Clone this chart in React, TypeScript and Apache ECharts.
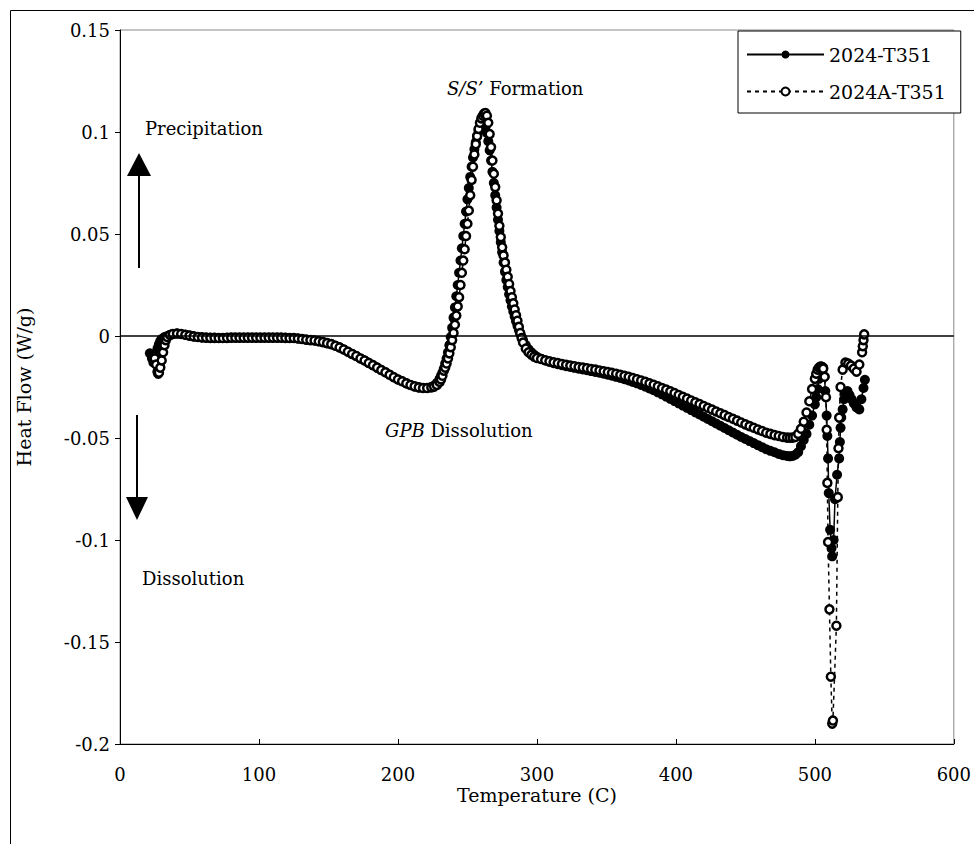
import React, { useEffect, useRef } from "react";
import * as echarts from "echarts";

const FONT = "DejaVu Serif";

const xTicks = { min: 0, max: 600, interval: 100 };
const yTicks = { min: -0.2, max: 0.15, interval: 0.05 };

const seriesNames = ["2024-T351", "2024A-T351"];

// 2024-T351 : [temperature (C), heat flow (W/g)]
const data2024: [number, number][] = [
  [21.5,-0.0085],[23,-0.011],[24,-0.013],[25,-0.012],[26,-0.009],[27,-0.006],[28,-0.004],[29,-0.0025],[30,-0.0015],[32,-0.0005],[34,0],[36,0.0005],
  [38,0.001],[41,0.0012],[44,0.001],[47,0.0006],[50,0.0002],[53,-0.0002],[56,-0.0005],[59,-0.0007],[62,-0.0008],[65,-0.0009],[68,-0.0009],[71,-0.001],[74,-0.001],[77,-0.0009],[80,-0.0008],[83,-0.0008],[86,-0.0008],[89,-0.0008],[92,-0.0008],[95,-0.0008],[98,-0.0008],[101,-0.0008],[104,-0.0008],[107,-0.0008],[110,-0.0008],[113,-0.0008],[116,-0.0008],[119,-0.0009],[122,-0.001],[125,-0.001],
  [128,-0.0012],[131,-0.0015],[134,-0.0018],[137,-0.002],[140,-0.0022],[143,-0.0026],[146,-0.003],[149,-0.0035],[152,-0.004],[155,-0.0048],[158,-0.0056],[161,-0.0066],[164,-0.0077],[167,-0.0088],[170,-0.0098],[173,-0.011],[176,-0.012],[179,-0.0132],[182,-0.0143],[185,-0.0155],[188,-0.0167],[191,-0.0178],[194,-0.019],[197,-0.0202],[200,-0.0213],[203,-0.0222],[206,-0.0232],[209,-0.024],[212,-0.0247],[215,-0.0252],[218,-0.0255],[221,-0.0255],[224,-0.025],[226,-0.0243],[228,-0.023],[230,-0.021],[231,-0.0195],[232,-0.018],[233,-0.016],[234,-0.0135],[235,-0.011],[236,-0.008],[237,-0.0045],[238,-0.0005],[239,0.004],[240,0.009],[241,0.014],[242,0.0195],[243,0.025],[244,0.031],[245,0.037],[246,0.043],[247,0.049],[248,0.055],[249,0.061],[250,0.067],[251,0.0725],[252,0.078],[253,0.083],[254,0.0875],[255,0.0915],[256,0.095],[257,0.098],[258,0.1005],[259,0.1025],[260,0.104],[261,0.105],[262,0.1045],[263,0.1025],[264,0.0995],[265,0.0955],[266,0.091],[267,0.086],[268,0.0805],[269,0.075],[270,0.069],[271,0.063],[272,0.057],[273,0.0515],[274,0.046],[275,0.041],[276,0.036],[277,0.0315],[278,0.0275],[279,0.024],[280,0.0205],[281,0.0175],[282,0.0145],[283,0.012],[284,0.0095],[285,0.0072],[286,0.005],[287,0.003],[288,0.0012],[289,-0.0005],[290,-0.002],[292,-0.0045],[294,-0.0065],[296,-0.008],[298,-0.0092],[300,-0.0102],
  [303,-0.0112],[306,-0.012],[309,-0.0127],[312,-0.0133],[315,-0.0138],[318,-0.0143],[321,-0.0148],[324,-0.0152],[327,-0.0156],[330,-0.016],[333,-0.0164],[336,-0.0168],[339,-0.0172],[342,-0.0176],[345,-0.018],[348,-0.0185],[351,-0.019],[354,-0.0195],[357,-0.02],[360,-0.0206],[363,-0.0212],[366,-0.0218],[369,-0.0225],[372,-0.0232],[375,-0.024],[378,-0.0248],[381,-0.0257],[384,-0.0266],[387,-0.0276],[390,-0.0286],[393,-0.0297],[396,-0.0308],[399,-0.0319],[402,-0.033],[405,-0.0341],[408,-0.0352],[411,-0.0363],[414,-0.0374],[417,-0.0385],[420,-0.0396],[423,-0.0407],[426,-0.0418],[429,-0.0429],[432,-0.044],[435,-0.0451],[438,-0.0462],[441,-0.0473],[444,-0.0484],[447,-0.0495],[450,-0.0505],[453,-0.0515],[456,-0.0525],[459,-0.0535],[462,-0.0545],[465,-0.0555],[468,-0.0563],[471,-0.057],[474,-0.0578],[477,-0.0584],[480,-0.0588],
  [482,-0.059],[484,-0.0588],[486,-0.0582],[488,-0.057],[490,-0.054],[492,-0.051],[494,-0.048],[496,-0.0435],[498,-0.039],[500,-0.0335],[501,-0.03],[502,-0.026],[503,-0.021],[504,-0.017],[505,-0.015],[506,-0.0155],[507,-0.02],[507.5,-0.027],[508.5,-0.039],[509,-0.049],[509.5,-0.06],[510,-0.077],[511,-0.095],[512,-0.104],[512.5,-0.108],[513.5,-0.1],[514.5,-0.08],[516,-0.068],[517.5,-0.06],[518,-0.052],[518.5,-0.045],[519,-0.04],[520,-0.036],[521,-0.031],[522,-0.028],[523.5,-0.027],[525,-0.029],[526.5,-0.031],[528,-0.033],[530,-0.035],[532,-0.036],[533.5,-0.031],[535,-0.0255],[536,-0.0215]
];

// 2024A-T351 : [temperature (C), heat flow (W/g)]
const data2024A: [number, number][] = [
  [25,-0.011],[26,-0.014],[27,-0.0175],[27.5,-0.0185],[28,-0.018],[29,-0.0155],[30,-0.012],[31,-0.008],[32,-0.0045],[33,-0.002],[34,-0.0005],[36,0.0005],
  [38,0.001],[41,0.0012],[44,0.001],[47,0.0006],[50,0.0002],[53,-0.0002],[56,-0.0005],[59,-0.0007],[62,-0.0008],[65,-0.0009],[68,-0.0009],[71,-0.001],[74,-0.001],[77,-0.0009],[80,-0.0008],[83,-0.0008],[86,-0.0008],[89,-0.0008],[92,-0.0008],[95,-0.0008],[98,-0.0008],[101,-0.0008],[104,-0.0008],[107,-0.0008],[110,-0.0008],[113,-0.0008],[116,-0.0008],[119,-0.0009],[122,-0.001],[125,-0.001],
  [128,-0.0012],[131,-0.0015],[134,-0.0018],[137,-0.002],[140,-0.0022],[143,-0.0026],[146,-0.003],[149,-0.0035],[152,-0.004],[155,-0.0048],[158,-0.0056],[161,-0.0066],[164,-0.0077],[167,-0.0088],[170,-0.0098],[173,-0.011],[176,-0.012],[179,-0.0132],[182,-0.0143],[185,-0.0155],[188,-0.0167],[191,-0.0178],[194,-0.019],[197,-0.0202],[200,-0.0213],[203,-0.0222],[206,-0.0232],[209,-0.024],[212,-0.0247],[215,-0.0252],[218,-0.0255],[221,-0.0255],[224,-0.0252],[226,-0.0248],[228,-0.024],[230,-0.0225],[231,-0.0213],[232,-0.0195],[233,-0.017],[234,-0.0155],[235,-0.0135],[236,-0.011],[237,-0.0085],[238,-0.0055],[239,-0.002],[240,0.0015],[241,0.0055],[242,0.01],[243,0.0145],[244,0.019],[245,0.025],[246,0.031],[247,0.037],[248,0.0425],[249,0.049],[250,0.055],[251,0.0615],[252,0.069],[253,0.0765],[254,0.083],[255,0.089],[256,0.094],[257,0.098],[258,0.1015],[259,0.1045],[260,0.1067],[261,0.108],[262,0.109],[263,0.1093],[264,0.108],[265,0.1045],[266,0.099],[267,0.0926],[268,0.086],[269,0.0795],[270,0.073],[271,0.0665],[272,0.06],[273,0.054],[274,0.0485],[275,0.0435],[276,0.0395],[277,0.036],[278,0.0325],[279,0.029],[280,0.0255],[281,0.022],[282,0.019],[283,0.016],[284,0.013],[285,0.0102],[286,0.0075],[287,0.0045],[288,0.0015],[289,-0.001],[290,-0.0032],[292,-0.0062],[294,-0.008],[296,-0.0092],[298,-0.0101],[300,-0.0108],
  [303,-0.0113],[306,-0.0119],[309,-0.0124],[312,-0.0129],[315,-0.0133],[318,-0.0137],[321,-0.0141],[324,-0.0145],[327,-0.0148],[330,-0.0152],[333,-0.0155],[336,-0.0158],[339,-0.0162],[342,-0.0165],[345,-0.0169],[348,-0.0173],[351,-0.0177],[354,-0.0181],[357,-0.0185],[360,-0.019],[363,-0.0195],[366,-0.02],[369,-0.0206],[372,-0.0212],[375,-0.0218],[378,-0.0225],[381,-0.0232],[384,-0.0239],[387,-0.0247],[390,-0.0255],[393,-0.0263],[396,-0.0271],[399,-0.028],[402,-0.0289],[405,-0.0298],[408,-0.0307],[411,-0.0316],[414,-0.0325],[417,-0.0334],[420,-0.0343],[423,-0.0352],[426,-0.0361],[429,-0.037],[432,-0.0379],[435,-0.0388],[438,-0.0397],[441,-0.0406],[444,-0.0415],[447,-0.0424],[450,-0.0433],[453,-0.0442],[456,-0.045],[459,-0.0458],[462,-0.0466],[465,-0.0474],[468,-0.048],[471,-0.0486],[474,-0.049],[477,-0.0495],[480,-0.0498],
  [482,-0.0499],[484,-0.0498],[486,-0.0495],[488,-0.048],[490,-0.0455],[492,-0.042],[494,-0.0375],[496,-0.032],[498,-0.026],[500,-0.021],[501,-0.0185],[502,-0.0165],[503,-0.0155],[504,-0.015],[505,-0.0152],[506,-0.016],[507,-0.02],[508,-0.03],[508.5,-0.046],[509,-0.072],[509.5,-0.101],[510.5,-0.134],[511.5,-0.167],[512.5,-0.19],[513,-0.1885],[515.5,-0.142],[516.5,-0.079],[517,-0.055],[517.5,-0.04],[518.5,-0.025],[520,-0.0165],[522,-0.013],[524,-0.0135],[526,-0.0145],[528,-0.016],[530,-0.0175],[532,-0.014],[534,-0.008],[534.5,-0.005],[535,-0.002],[535.5,0.0008]
];

const labelText = {
  up: "Precipitation",
  down: "Dissolution",
  peak: "{i|S/S\u2019} Formation",
  valley: "{i|GPB} Dissolution",
  xName: "Temperature (C)",
  yName: "Heat Flow (W/g)",
};

function textEl(text: string, x: number, y: number, size = 18) {
  return {
    type: "text",
    x,
    y,
    silent: true,
    style: {
      text,
      fill: "#000",
      fontFamily: FONT,
      fontSize: size,
      textAlign: "left",
      textVerticalAlign: "middle",
      verticalAlign: "middle",
      rich: {
        i: { fontFamily: FONT, fontSize: size, fontStyle: "italic", fill: "#000" },
      },
    },
  };
}

export default function App() {
  const ref = useRef<HTMLDivElement>(null);
  useEffect(() => {
    if (!ref.current) return;
    const chart = echarts.init(ref.current, null, { renderer: "svg" });
    const option: any = {
      animation: false,
      backgroundColor: "#fff",
      grid: {
        left: 120,
        right: 17,
        top: 30,
        bottom: 100,
        show: true,
        borderColor: "#888",
        borderWidth: 1,
      },
      legend: {
        orient: "vertical",
        left: 738,
        top: 31,
        backgroundColor: "#fff",
        borderColor: "#000",
        borderWidth: 1,
        padding: [14, 15, 12, 8],
        itemWidth: 77,
        itemHeight: 10,
        itemGap: 18,
        textStyle: { fontFamily: FONT, fontSize: 19, color: "#000" },
        data: seriesNames,
      },
      xAxis: {
        type: "value",
        min: xTicks.min,
        max: xTicks.max,
        interval: xTicks.interval,
        name: labelText.xName,
        nameLocation: "middle",
        nameGap: 41,
        nameMoveOverlap: false,
        nameTextStyle: { fontFamily: FONT, fontSize: 19, color: "#000" },
        axisLine: { onZero: false, lineStyle: { color: "#000", width: 1 } },
        axisTick: { inside: true, length: 5, lineStyle: { color: "#000" } },
        axisLabel: { margin: 21, fontFamily: FONT, fontSize: 18, color: "#000" },
        splitLine: { show: false },
      },
      yAxis: {
        type: "value",
        min: yTicks.min,
        max: yTicks.max,
        interval: yTicks.interval,
        name: labelText.yName,
        nameLocation: "middle",
        nameGap: 87,
        nameMoveOverlap: false,
        nameTextStyle: { fontFamily: FONT, fontSize: 19, color: "#000" },
        axisLine: { show: true, lineStyle: { color: "#000", width: 1 } },
        axisTick: { show: true, inside: false, length: 5, lineStyle: { color: "#000" } },
        axisLabel: {
          margin: 10,
          fontFamily: FONT,
          fontSize: 18,
          color: "#000",
          formatter: (v: number) => String(Number(v.toFixed(3))),
        },
        splitLine: { show: false },
      },
      series: [
        {
          name: seriesNames[0],
          type: "line",
          data: data2024,
          symbol: "circle",
          symbolSize: 10,
          showAllSymbol: true,
          itemStyle: { color: "#000" },
          lineStyle: { color: "#000", width: 1.5, type: "solid" },
          z: 2,
          markLine: {
            silent: true,
            symbol: ["none", "none"],
            label: { show: false },
            lineStyle: { color: "#000", width: 1.5, type: "solid" },
            data: [{ yAxis: 0 }],
          },
        },
        {
          name: seriesNames[1],
          type: "line",
          data: data2024A,
          symbol: "circle",
          symbolSize: 8,
          showAllSymbol: true,
          itemStyle: { color: "#fff", borderColor: "#000", borderWidth: 2.5 },
          lineStyle: { color: "#000", width: 1.5, type: [4, 4] },
          z: 3,
        },
      ],
      graphic: [
        {
          type: "rect",
          silent: true,
          shape: { x: 10.5, y: 10.5, width: 1000, height: 900 },
          style: { fill: "none", stroke: "#000", lineWidth: 1 },
        },
        {
          type: "line",
          silent: true,
          shape: { x1: 139, y1: 268, x2: 139, y2: 172 },
          style: { stroke: "#000", lineWidth: 2 },
        },
        {
          type: "polygon",
          silent: true,
          shape: { points: [[139, 153], [127, 176], [151, 176]] },
          style: { fill: "#000" },
        },
        {
          type: "line",
          silent: true,
          shape: { x1: 137, y1: 415, x2: 137, y2: 500 },
          style: { stroke: "#000", lineWidth: 2 },
        },
        {
          type: "polygon",
          silent: true,
          shape: { points: [[137, 520], [126, 497], [148, 497]] },
          style: { fill: "#000" },
        },
        textEl(labelText.up, 145, 128),
        textEl(labelText.down, 142, 578),
        textEl(labelText.peak, 447, 88),
        textEl(labelText.valley, 385, 430),
      ],
    };
    chart.setOption(option);
    return () => chart.dispose();
  }, []);
  return (
    <div
      ref={ref}
      style={{ position: "absolute", left: 0, top: 0, width: 974, height: 844, background: "#fff" }}
    />
  );
}
